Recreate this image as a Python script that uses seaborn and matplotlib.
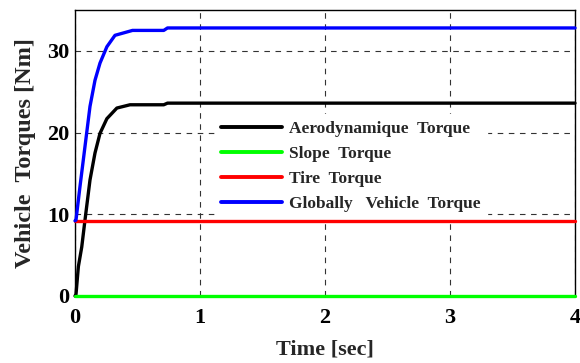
import matplotlib
matplotlib.use("Agg")
import matplotlib.pyplot as plt
import seaborn as sns
import numpy as np
import pandas as pd

# Data
time_aero = [0.0, 0.008, 0.027, 0.054, 0.08, 0.12, 0.16, 0.20, 0.255, 0.335, 0.44, 0.71, 0.74, 4.0]
aero = [0.0, 0.2, 3.6, 6.0, 9.3, 14.2, 17.5, 19.9, 21.7, 23.0, 23.4, 23.4, 23.6, 23.6]
time_total = [0.0, 0.008, 0.04, 0.08, 0.12, 0.16, 0.20, 0.255, 0.32, 0.46, 0.71, 0.74, 4.0]
total = [9.2, 9.3, 13.4, 18.3, 23.2, 26.4, 28.5, 30.5, 31.9, 32.5, 32.5, 32.8, 32.8]
time_const = [0.0, 4.0]
slope = [0.0, 0.0]
tire = [9.2, 9.2]

labels = ["Aerodynamique  Torque", "Slope  Torque", "Tire  Torque", "Globally   Vehicle  Torque"]
colors = ["#000000", "#00ff00", "#ff0000", "#0000ff"]
x_ticks = [0, 1, 2, 3, 4]
y_ticks = [0, 10, 20, 30]

sns.set_theme(style="white")
plt.rcParams['font.family'] = ['Liberation Serif', 'DejaVu Serif']
plt.rcParams['font.weight'] = 'bold'

df = pd.concat([
    pd.DataFrame({"t": time_aero, "v": aero, "s": labels[0]}),
    pd.DataFrame({"t": time_const, "v": slope, "s": labels[1]}),
    pd.DataFrame({"t": time_const, "v": tire, "s": labels[2]}),
    pd.DataFrame({"t": time_total, "v": total, "s": labels[3]}),
])

fig = plt.figure(figsize=(5.8, 3.63), dpi=100)
ax = fig.add_axes([0.1293, 0.1846, 0.8621, 0.7879])
sns.lineplot(data=df, x="t", y="v", hue="s", palette=colors, hue_order=labels,
             linewidth=2.4, ax=ax, sort=False, estimator=None)
for ln in ax.get_lines():
    ln.set_clip_on(False)
    ln.set_zorder(3)

ax.set_xlim(0, 4)
ax.set_ylim(0, 35)
ax.set_xticks(x_ticks)
ax.set_yticks(y_ticks)
ax.grid(True, color="#333333", linestyle=(0, (5, 5)), linewidth=0.8)
ax.tick_params(direction="in", length=4, width=0.8, colors="black", labelsize=16, pad=4)
ax.tick_params(axis="x", pad=9)
for lab in ax.get_xticklabels() + ax.get_yticklabels():
    lab.set_fontweight("bold")
for sp in ax.spines.values():
    sp.set_color("black")
    sp.set_linewidth(1.0)
    sp.set_zorder(2)
ax.set_xlabel("Time [sec]", fontsize=16, fontweight="bold", labelpad=8)
ax.set_ylabel("Vehicle  Torques [Nm]", fontsize=17.5, fontweight="bold", labelpad=8)

leg = ax.legend(loc="upper left", bbox_to_anchor=(0.262, 0.665),
                frameon=True, handlelength=3.5, handletextpad=0.45, labelspacing=0.52,
                borderpad=0.35, prop={"weight": "bold", "size": 12.5})
leg.get_frame().set_edgecolor("white")
leg.get_frame().set_facecolor("white")
leg.get_frame().set_alpha(1.0)
leg.set_zorder(2.5)
for line in leg.get_lines():
    line.set_linewidth(2.8)

fig.savefig("out.png", dpi=100)
